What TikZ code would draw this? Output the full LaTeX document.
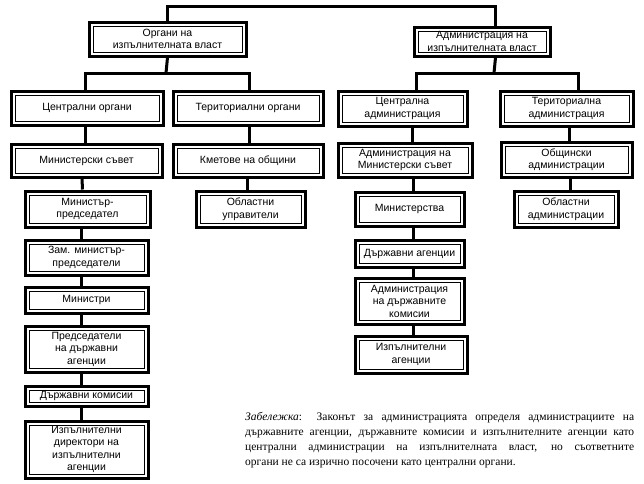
\documentclass[tikz,border=0pt]{standalone}
\usepackage{fontspec}
\setmainfont{Liberation Serif}
\newfontfamily\boxfont{Liberation Sans}
\usetikzlibrary{calc}
\tikzset{
  bx/.style={draw, line width=3pt, inner sep=0pt, align=center,
    font=\boxfont\fontsize{10.5}{12.5}\selectfont,
    path picture={\draw[line width=1pt]
      ($(path picture bounding box.south west)+(4pt,4pt)$) rectangle
      ($(path picture bounding box.north east)+(-4pt,-4pt)$);}},
  conn/.style={line width=3pt},
  notetext/.style={anchor=north west, text width=389pt, align=justify,
    inner sep=0pt, font=\fontsize{11.5}{15}\selectfont}
}
\newcommand\bxn[6]{\node[bx,anchor=north west,
  minimum width={(#4-#2-3)*1pt},minimum height={(#5-#3-3)*1pt}]
  (#1) at ({#2+1.5},{#3+1.5}) {#6};}
\begin{document}
\begin{tikzpicture}[x=1pt,y=-1pt]
\useasboundingbox (0,0) rectangle (644,483);
% boxes
\bxn{L0}{86}{19}{246}{56}{Органи на\\изпълнителната власт}
\bxn{R0}{411}{24}{550}{56}{Администрация на\\изпълнителната власт}
\bxn{L1a}{8}{88}{163}{125}{Централни органи}
\bxn{L1b}{170}{88}{323}{125}{Териториални органи}
\bxn{R1a}{335}{88}{467}{126}{Централна\\администрация}
\bxn{R1b}{497}{88}{633}{126}{Териториална\\администрация}
\bxn{L2a}{8}{141}{162}{177}{Министерски съвет}
\bxn{L2b}{170}{141}{323}{177}{Кметове на общини}
\bxn{R2a}{335}{140}{472}{177}{Администрация на\\Министерски съвет}
\bxn{R2b}{498}{139}{632}{177}{Общински\\администрации}
\bxn{L3}{22}{188}{150}{227}{Министър-\\председател}
\bxn{L3b}{193}{188}{305}{227}{Областни\\управители}
\bxn{R3}{352}{189}{464}{226}{Министерства}
\bxn{R3b}{511}{188}{618}{227}{Областни\\администрации}
\bxn{L4}{22}{237}{148}{275}{Зам. министър-\\председатели}
\bxn{L5}{22}{284}{148}{313}{Министри}
\bxn{L6}{22}{323}{148}{372}{Председатели\\на държавни\\агенции}
\bxn{L7}{22}{383}{148}{406}{Държавни комисии}
\bxn{L8}{22}{418}{148}{478}{Изпълнителни\\директори на\\изпълнителни\\агенции}
\bxn{R4}{352}{237}{464}{267}{Държавни агенции}
\bxn{R5}{352}{275}{464}{324}{Администрация\\на държавните\\комисии}
\bxn{R6}{352}{333}{467}{373}{Изпълнителни\\агенции}
% connectors
\draw[conn] (L0.north) |- ([xshift=13.5pt,yshift=19.5pt]R0.north) -- ([xshift=13.5pt]R0.north);
\coordinate (jl) at (166,73);
\coordinate (jr) at (494,73);
\draw[conn] (L0.south) -- (jl);
\draw[conn] ([xshift=-1.5pt]L1a.north) |- (jl) -| ([xshift=1.5pt]L1b.north);
\draw[conn] ([xshift=13.5pt]R0.south) -- (jr);
\draw[conn] ([xshift=14pt]R1a.north) |- (jr) -| ([xshift=12pt]R1b.north);
% left central column
\draw[conn] ([xshift=-1.5pt]L1a.south) -- ([xshift=-1pt]L2a.north);
\draw[conn] ([xshift=-4.5pt]L2a.south) -- ([xshift=-5pt]L3.north);
\draw[conn] ([xshift=-6pt]L3.south) -- ([xshift=-5pt]L4.north);
\draw[conn] ([xshift=-5pt]L4.south) -- ([xshift=-5pt]L5.north);
\draw[conn] ([xshift=-5pt]L5.south) -- ([xshift=-5pt]L6.north);
\draw[conn] ([xshift=-5pt]L6.south) -- ([xshift=-5pt]L7.north);
\draw[conn] ([xshift=-5pt]L7.south) -- ([xshift=-5pt]L8.north);
% left territorial
\draw[conn] ([xshift=1.5pt]L1b.south) -- ([xshift=1.5pt]L2b.north);
\draw[conn] ([xshift=-0.5pt]L2b.south) -- ([xshift=-3pt]L3b.north);
% right central column
\draw[conn] ([xshift=10pt]R1a.south) -- ([xshift=7.5pt]R2a.north);
\draw[conn] ([xshift=8.5pt]R2a.south) -- ([xshift=4pt]R3.north);
\draw[conn] ([xshift=4pt]R3.south) -- ([xshift=4pt]R4.north);
\draw[conn] ([xshift=4pt]R4.south) -- ([xshift=4pt]R5.north);
\draw[conn] ([xshift=4pt]R5.south) -- ([xshift=2.5pt]R6.north);
% right territorial
\draw[conn] ([xshift=3pt]R1b.south) -- ([xshift=3pt]R2b.north);
\draw[conn] ([xshift=4pt]R2b.south) -- ([xshift=4.5pt]R3b.north);
% note
\node[notetext] (note) at (245,412) {\textit{Забележка}: Законът за администрацията определя администрациите на\linebreak държавните агенции, държавните комисии и изпълнителните агенции като\linebreak централни администрации на изпълнителната власт, но съответните\linebreak органи не са изрично посочени като централни органи.};
\end{tikzpicture}
\end{document}
